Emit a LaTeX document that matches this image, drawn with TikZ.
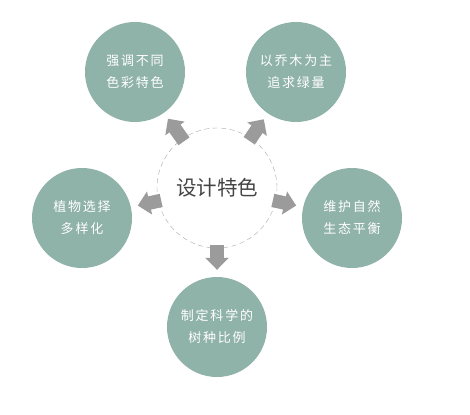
\documentclass[tikz,border=0pt]{standalone}
\usepackage{fontspec}
\newfontfamily\cjk{Noto Sans CJK SC}
\newfontfamily\cjkspaced[LetterSpace=14]{Noto Sans CJK SC}
\usetikzlibrary{arrows.meta}

\definecolor{salvia}{HTML}{8FB2A9}
\definecolor{cinzaseta}{HTML}{9B9B9B}
\definecolor{textocentro}{HTML}{444444}

\begin{document}
\begin{tikzpicture}[
    x=1pt, y=-1pt,
    % Estilo dos circulos externos
    bolha/.style={circle, fill=salvia, minimum size=100pt, inner sep=0pt,
        text=white, font=\cjkspaced\fontsize{13}{22}\selectfont, align=center},
    % Setas grossas cinza saindo do circulo central
    seta/.style={cinzaseta, line width=13.5pt,
        -{Triangle[length=12pt, width=23pt]},
        shorten <=-3pt, shorten >=7pt}
]
\useasboundingbox (0,0) rectangle (470,414);

% --- Circulo central ---
\node[circle, draw=gray!70, dash pattern=on 5pt off 3.5pt, thin, minimum size=120pt,
      inner sep=0pt, text=textocentro, font=\cjk\fontsize{20.5}{24}\selectfont]
      (centro) at (217,188) {设计特色};

% --- Circulos externos ---
\node[bolha] (cores)    at (135,72)  {强调不同\\色彩特色};
\node[bolha] (arvores)  at (296,72)  {以乔木为主\\追求绿量};
\node[bolha] (plantas)  at (82,218)  {植物选择\\多样化};
\node[bolha] (natureza) at (352,218) {维护自然\\生态平衡};
\node[bolha] (especies) at (217,327) {制定科学的\\树种比例};

% --- Setas ---
\foreach \alvo in {cores, arvores, plantas, natureza, especies}
    \draw[seta] (centro) -- (\alvo);

\end{tikzpicture}
\end{document}
